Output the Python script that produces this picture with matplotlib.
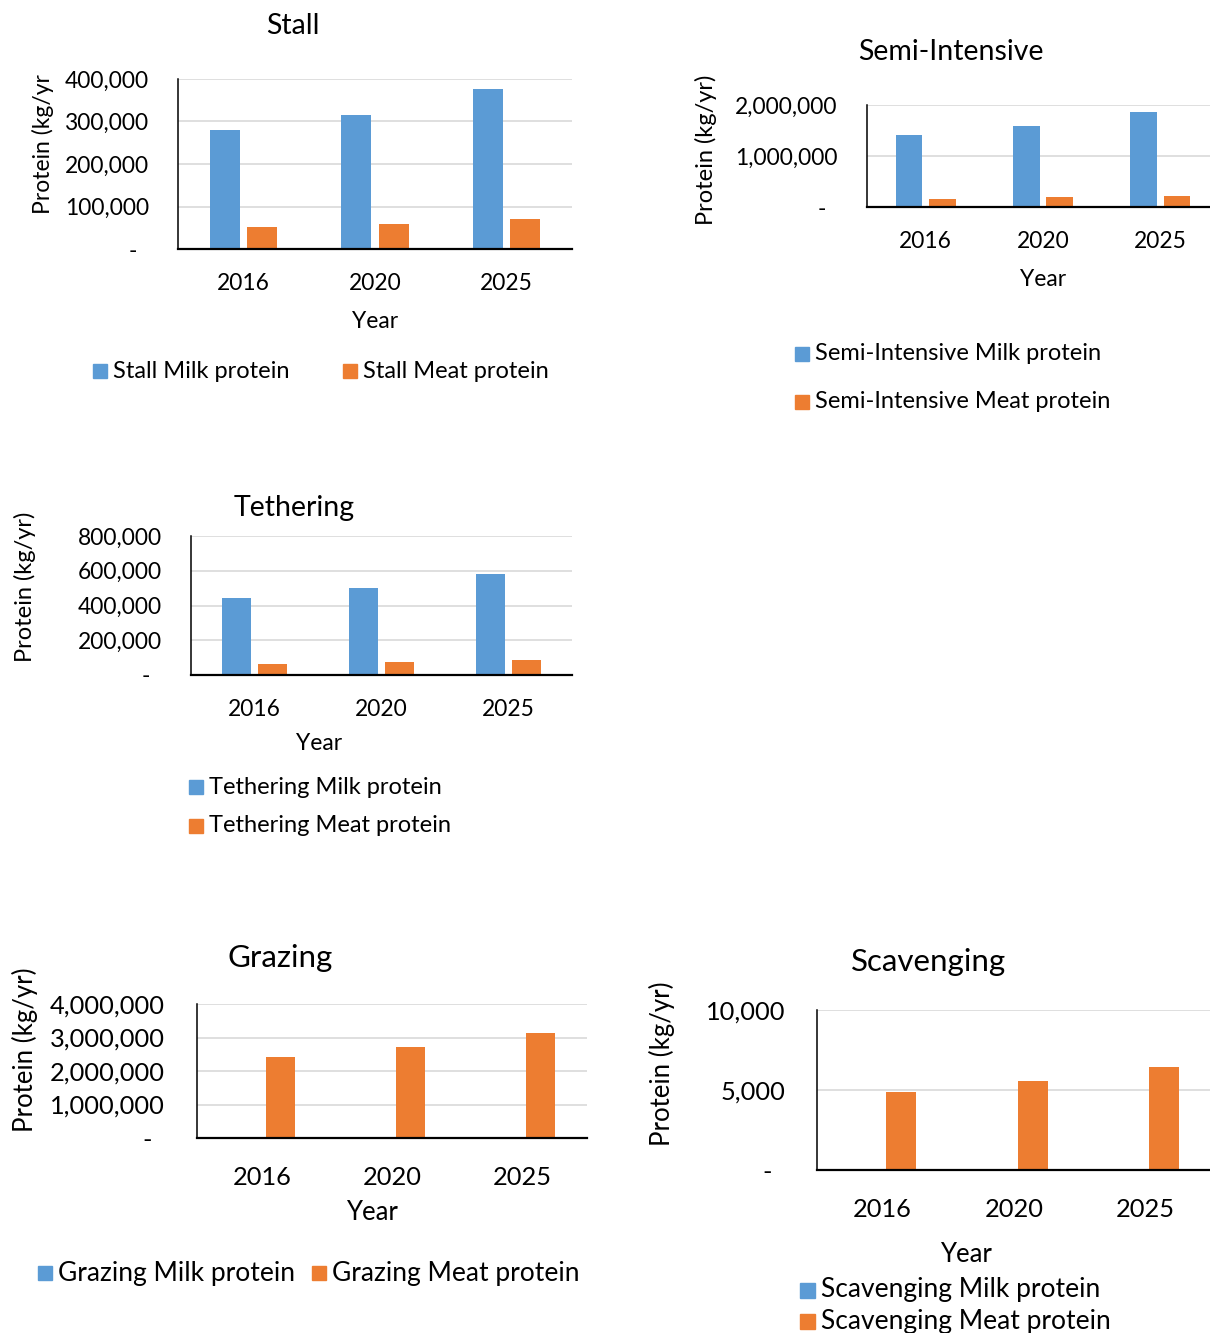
import matplotlib
matplotlib.use("Agg")
import matplotlib.pyplot as plt
from matplotlib.patches import Rectangle
from matplotlib.ticker import FuncFormatter
import numpy as np

plt.rcParams['font.family'] = ['Lato', 'DejaVu Sans']

BLUE = "#5B9BD5"
ORANGE = "#ED7D31"
GRID = "#D9D9D9"

years = ["2016", "2020", "2025"]

stall_milk = [280000, 315000, 376000]
stall_meat = [51000, 58000, 70000]

semi_milk = [1418000, 1594000, 1856000]
semi_meat = [163000, 190000, 216000]

teth_milk = [443000, 499000, 581000]
teth_meat = [65000, 74000, 85000]

graz_milk = [0, 0, 0]
graz_meat = [2410000, 2710000, 3140000]

scav_milk = [0, 0, 0]
scav_meat = [4900, 5540, 6420]

W, H = 1210, 1333
fig = plt.figure(figsize=(W / 100, H / 100), dpi=100)


def fx(x):
    return x / W


def fy(y):
    return 1 - y / H


def tick_fmt(v, pos):
    if abs(v) < 1e-9:
        return "-  "
    return f"{v:,.0f}"


def panel(box, milk, meat, ymax, step, fs, ypad, xpad):
    x0, y0, x1, y1 = box
    ax = fig.add_axes([fx(x0), fy(y1), fx(x1 - x0), (y1 - y0) / H])
    x = np.arange(len(years))
    ax.bar(x - 0.142, milk, 0.228, color=BLUE, zorder=3)
    ax.bar(x + 0.142, meat, 0.228, color=ORANGE, zorder=3)
    ax.set_xlim(-0.5, 2.5)
    ax.set_ylim(0, ymax)
    ax.set_yticks(np.arange(0, ymax + step / 2, step))
    ax.yaxis.set_major_formatter(FuncFormatter(tick_fmt))
    ax.set_xticks(x)
    ax.set_xticklabels(years)
    ax.tick_params(axis="both", length=0, labelsize=fs, colors="#000000")
    ax.tick_params(axis="y", pad=ypad)
    ax.tick_params(axis="x", pad=xpad)
    ax.grid(axis="y", color=GRID, lw=1.2, zorder=0)
    for s in ("top", "right"):
        ax.spines[s].set_visible(False)
    ax.spines["left"].set_color("#000000")
    ax.spines["left"].set_linewidth(1.1)
    ax.spines["bottom"].set_color("#000000")
    ax.spines["bottom"].set_linewidth(1.6)
    ax.spines["bottom"].set_zorder(4)
    return ax


def label(x, y, s, fs, rot=0):
    fig.text(fx(x), fy(y), s, fontsize=fs, rotation=rot,
             ha="center", va="center", color="#000000")


def legend_entry(x, y, size, color, text, fs, gap=6):
    fig.add_artist(Rectangle((fx(x), fy(y + size / 2)), size / W, size / H,
                             transform=fig.transFigure, color=color))
    fig.text(fx(x + size + gap), fy(y), text, fontsize=fs,
             ha="left", va="center", color="#000000")


# Stall
panel((178, 79, 572, 249), stall_milk, stall_meat, 400000, 100000, 16.4, 21, 17)
label(293, 26, "Stall", 20.5)
label(43, 144, "Protein (kg/yr", 16.5, 90)
label(375, 322, "Year", 16.5)
legend_entry(93, 371, 14, BLUE, "Stall Milk protein", 17)
legend_entry(343, 371, 14, ORANGE, "Stall Meat protein", 17)

# Semi-Intensive
panel((867, 105, 1219, 207), semi_milk, semi_meat, 2000000, 1000000, 16.4, 21, 17)
label(951, 52, "Semi-Intensive", 20.5)
label(706, 150, "Protein (kg/yr)", 17, 90)
label(1043, 280, "Year", 16.5)
legend_entry(795, 354, 14, BLUE, "Semi-Intensive Milk protein", 17)
legend_entry(795, 402, 14, ORANGE, "Semi-Intensive Meat protein", 17)

# Tethering
panel((191, 536, 572, 675), teth_milk, teth_meat, 800000, 200000, 16.4, 21, 17)
label(294, 508, "Tethering", 20.5)
label(25, 587, "Protein (kg/yr)", 17, 90)
label(319, 744, "Year", 16.5)
legend_entry(189, 787, 14, BLUE, "Tethering Milk protein", 17)
legend_entry(189, 826, 14, ORANGE, "Tethering Meat protein", 17)

# Grazing
panel((197, 1004, 587, 1138), graz_milk, graz_meat, 4000000, 1000000, 18.3, 23, 20)
label(280, 958, "Grazing", 22.5)
label(25, 1050, "Protein (kg/yr)", 18.5, 90)
label(372, 1212, "Year", 18.5)
legend_entry(38, 1273, 14, BLUE, "Grazing Milk protein", 19)
legend_entry(312, 1273, 14, ORANGE, "Grazing Meat protein", 19)

# Scavenging
panel((817, 1010, 1211, 1170), scav_milk, scav_meat, 10000, 5000, 18.3, 23, 20)
label(929, 962, "Scavenging", 22.5)
label(662, 1064, "Protein (kg/yr)", 18.5, 90)
label(966, 1254, "Year", 18.5)
legend_entry(800, 1290, 15, BLUE, "Scavenging Milk protein", 19)
legend_entry(800, 1321, 15, ORANGE, "Scavenging Meat protein", 19)

fig.savefig("out.png", dpi=100)
